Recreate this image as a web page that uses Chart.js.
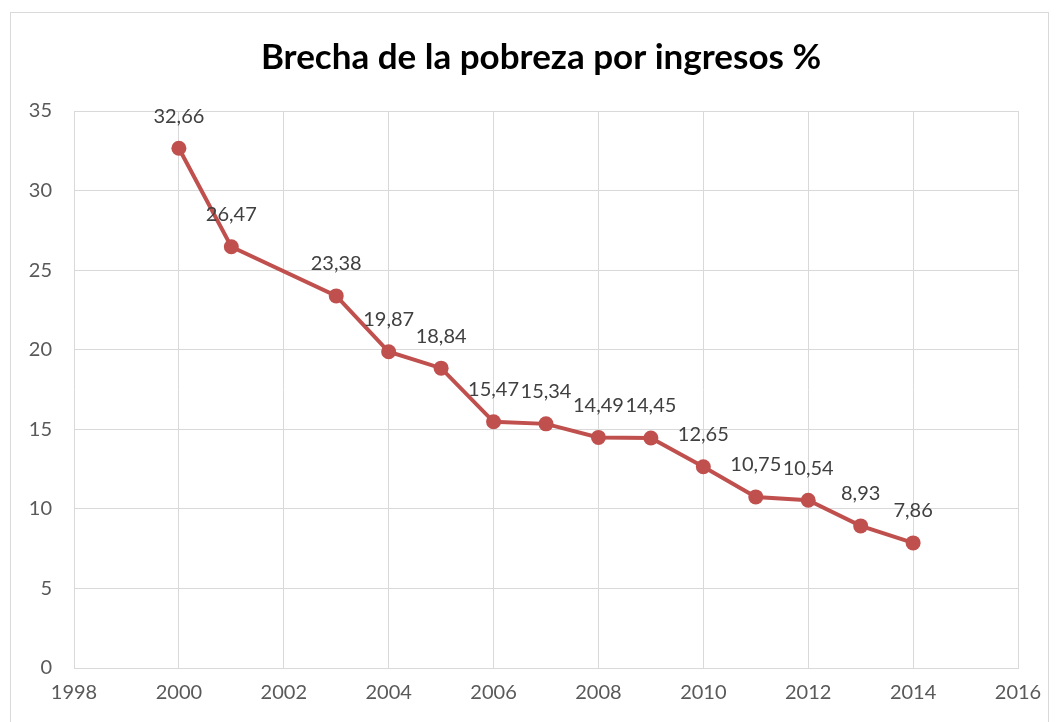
<!DOCTYPE html>
<html>
<head>
<meta charset="utf-8">
<script src="https://cdn.jsdelivr.net/npm/chart.js@4"></script>
<style>
  html, body { margin: 0; padding: 0; background: #fff; }
  #wrap { width: 1056px; height: 722px; }
</style>
</head>
<body>
<div id="wrap"><canvas id="chart"></canvas></div>
<script>
const years = [2000, 2001, 2003, 2004, 2005, 2006, 2007, 2008, 2009, 2010, 2011, 2012, 2013, 2014];
const brecha = [32.66, 26.47, 23.38, 19.87, 18.84, 15.47, 15.34, 14.49, 14.45, 12.65, 10.75, 10.54, 8.93, 7.86];
const titulo = 'Brecha de la pobreza por ingresos %';

const FONT = 'Lato, "Open Sans", sans-serif';

// Marco exterior y título
const marco = {
    id: 'marco',
    beforeDraw(chart) {
        const ctx = chart.ctx;
        ctx.save();
        ctx.fillStyle = '#fff';
        ctx.fillRect(0, 0, chart.width, chart.height);
        ctx.strokeStyle = '#d9d9d9';
        ctx.lineWidth = 1;
        ctx.strokeRect(10.5, 12.5, 1038, 730);
        ctx.fillStyle = '#000';
        ctx.font = 'bold 35px ' + FONT;
        ctx.textAlign = 'center';
        ctx.textBaseline = 'middle';
        ctx.fillText(titulo, 541, 58);
        ctx.restore();
    }
};

// Etiquetas de datos sobre cada punto
const etiquetas = {
    id: 'etiquetas',
    afterDatasetsDraw(chart) {
        const ctx = chart.ctx;
        const meta = chart.getDatasetMeta(0);
        ctx.save();
        ctx.fillStyle = '#404040';
        ctx.font = '20px ' + FONT;
        ctx.textAlign = 'center';
        ctx.textBaseline = 'middle';
        meta.data.forEach((pt, i) => {
            const txt = brecha[i].toFixed(2).replace('.', ',');
            ctx.fillText(txt, pt.x, pt.y - 32);
        });
        ctx.restore();
    }
};

new Chart(document.getElementById('chart'), {
    type: 'line',
    data: {
        datasets: [{
            data: years.map((y, i) => ({ x: y, y: brecha[i] })),
            borderColor: '#c0504d',
            backgroundColor: '#c0504d',
            borderWidth: 4,
            pointRadius: 7.5,
            pointHoverRadius: 7.5,
            pointBorderWidth: 0,
            tension: 0
        }]
    },
    options: {
        responsive: true,
        maintainAspectRatio: false,
        animation: false,
        layout: { padding: { top: 111, left: 10, right: 38, bottom: 0 } },
        plugins: {
            legend: { display: false },
            title: { display: false },
            tooltip: { enabled: false }
        },
        scales: {
            x: {
                type: 'linear',
                min: 1998,
                max: 2016,
                ticks: {
                    stepSize: 2,
                    padding: 13,
                    color: '#595959',
                    font: { family: FONT, size: 20 },
                    callback: v => String(v)
                },
                grid: { color: '#d9d9d9', drawTicks: false },
                border: { color: '#d9d9d9' },
                afterFit: s => { s.height = 54; }
            },
            y: {
                min: 0,
                max: 35,
                ticks: {
                    stepSize: 5,
                    padding: 22,
                    color: '#595959',
                    font: { family: FONT, size: 20 }
                },
                grid: { color: '#d9d9d9', drawTicks: false },
                border: { display: false },
                afterFit: s => { s.width = 64; }
            }
        }
    },
    plugins: [marco, etiquetas]
});
</script>
</body>
</html>
